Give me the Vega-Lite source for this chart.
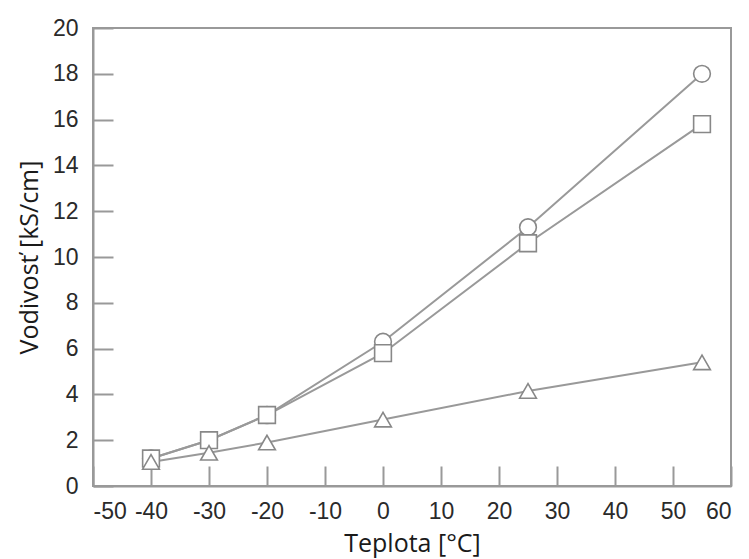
{
  "$schema": "https://vega.github.io/schema/vega-lite/v6.json",
  "width": 638,
  "height": 458,
  "autosize": "none",
  "padding": {"left": 93, "top": 28, "right": 18, "bottom": 73},
  "background": "white",
  "config": {
    "view": {"stroke": "#999", "strokeWidth": 2},
    "axis": {
      "grid": false,
      "domainColor": "#999",
      "domainWidth": 2,
      "tickColor": "#999",
      "tickWidth": 2,
      "tickSize": -20,
      "labelFont": "Liberation Sans",
      "labelFontSize": 23,
      "labelColor": "#2a2a2a",
      "labelExpr": "'' + datum.value",
      "titleFont": "Open Sans",
      "titleFontSize": 25,
      "titleFontWeight": "normal",
      "titleColor": "#1a1a1a"
    }
  },
  "data": {
    "values": [
      {"t": -40, "v": 1.2, "s": "A"},
      {"t": -30, "v": 2.0, "s": "A"},
      {"t": -20, "v": 3.1, "s": "A"},
      {"t": 0, "v": 6.3, "s": "A"},
      {"t": 25, "v": 11.3, "s": "A"},
      {"t": 55, "v": 18.0, "s": "A"},
      {"t": -40, "v": 1.2, "s": "B"},
      {"t": -30, "v": 2.0, "s": "B"},
      {"t": -20, "v": 3.1, "s": "B"},
      {"t": 0, "v": 5.8, "s": "B"},
      {"t": 25, "v": 10.6, "s": "B"},
      {"t": 55, "v": 15.8, "s": "B"},
      {"t": -40, "v": 1.05, "s": "C"},
      {"t": -30, "v": 1.45, "s": "C"},
      {"t": -20, "v": 1.9, "s": "C"},
      {"t": 0, "v": 2.9, "s": "C"},
      {"t": 25, "v": 4.15, "s": "C"},
      {"t": 55, "v": 5.4, "s": "C"}
    ]
  },
  "encoding": {
    "x": {
      "field": "t",
      "type": "quantitative",
      "scale": {"domain": [-50, 60], "nice": false},
      "axis": {"values": [-50, -40, -30, -20, -10, 0, 10, 20, 30, 40, 50, 60], "labelPadding": 34, "title": "Teplota [°C]", "titlePadding": 8}
    },
    "y": {
      "field": "v",
      "type": "quantitative",
      "scale": {"domain": [0, 20], "nice": false},
      "axis": {"values": [0, 2, 4, 6, 8, 10, 12, 14, 16, 18, 20], "labelPadding": 35, "title": "Vodivosť [kS/cm]", "titlePadding": 10}
    }
  },
  "layer": [
    {
      "mark": {"type": "line", "color": "#999", "strokeWidth": 2},
      "encoding": {"detail": {"field": "s"}}
    },
    {
      "mark": {"type": "point", "filled": false, "fill": "white", "fillOpacity": 1, "stroke": "#888", "strokeWidth": 1.6, "opacity": 1},
      "encoding": {
        "shape": {"field": "s", "type": "nominal", "scale": {"domain": ["A", "B", "C"], "range": ["circle", "square", "triangle-up"]}, "legend": null},
        "size": {"value": 280}
      }
    }
  ]
}
